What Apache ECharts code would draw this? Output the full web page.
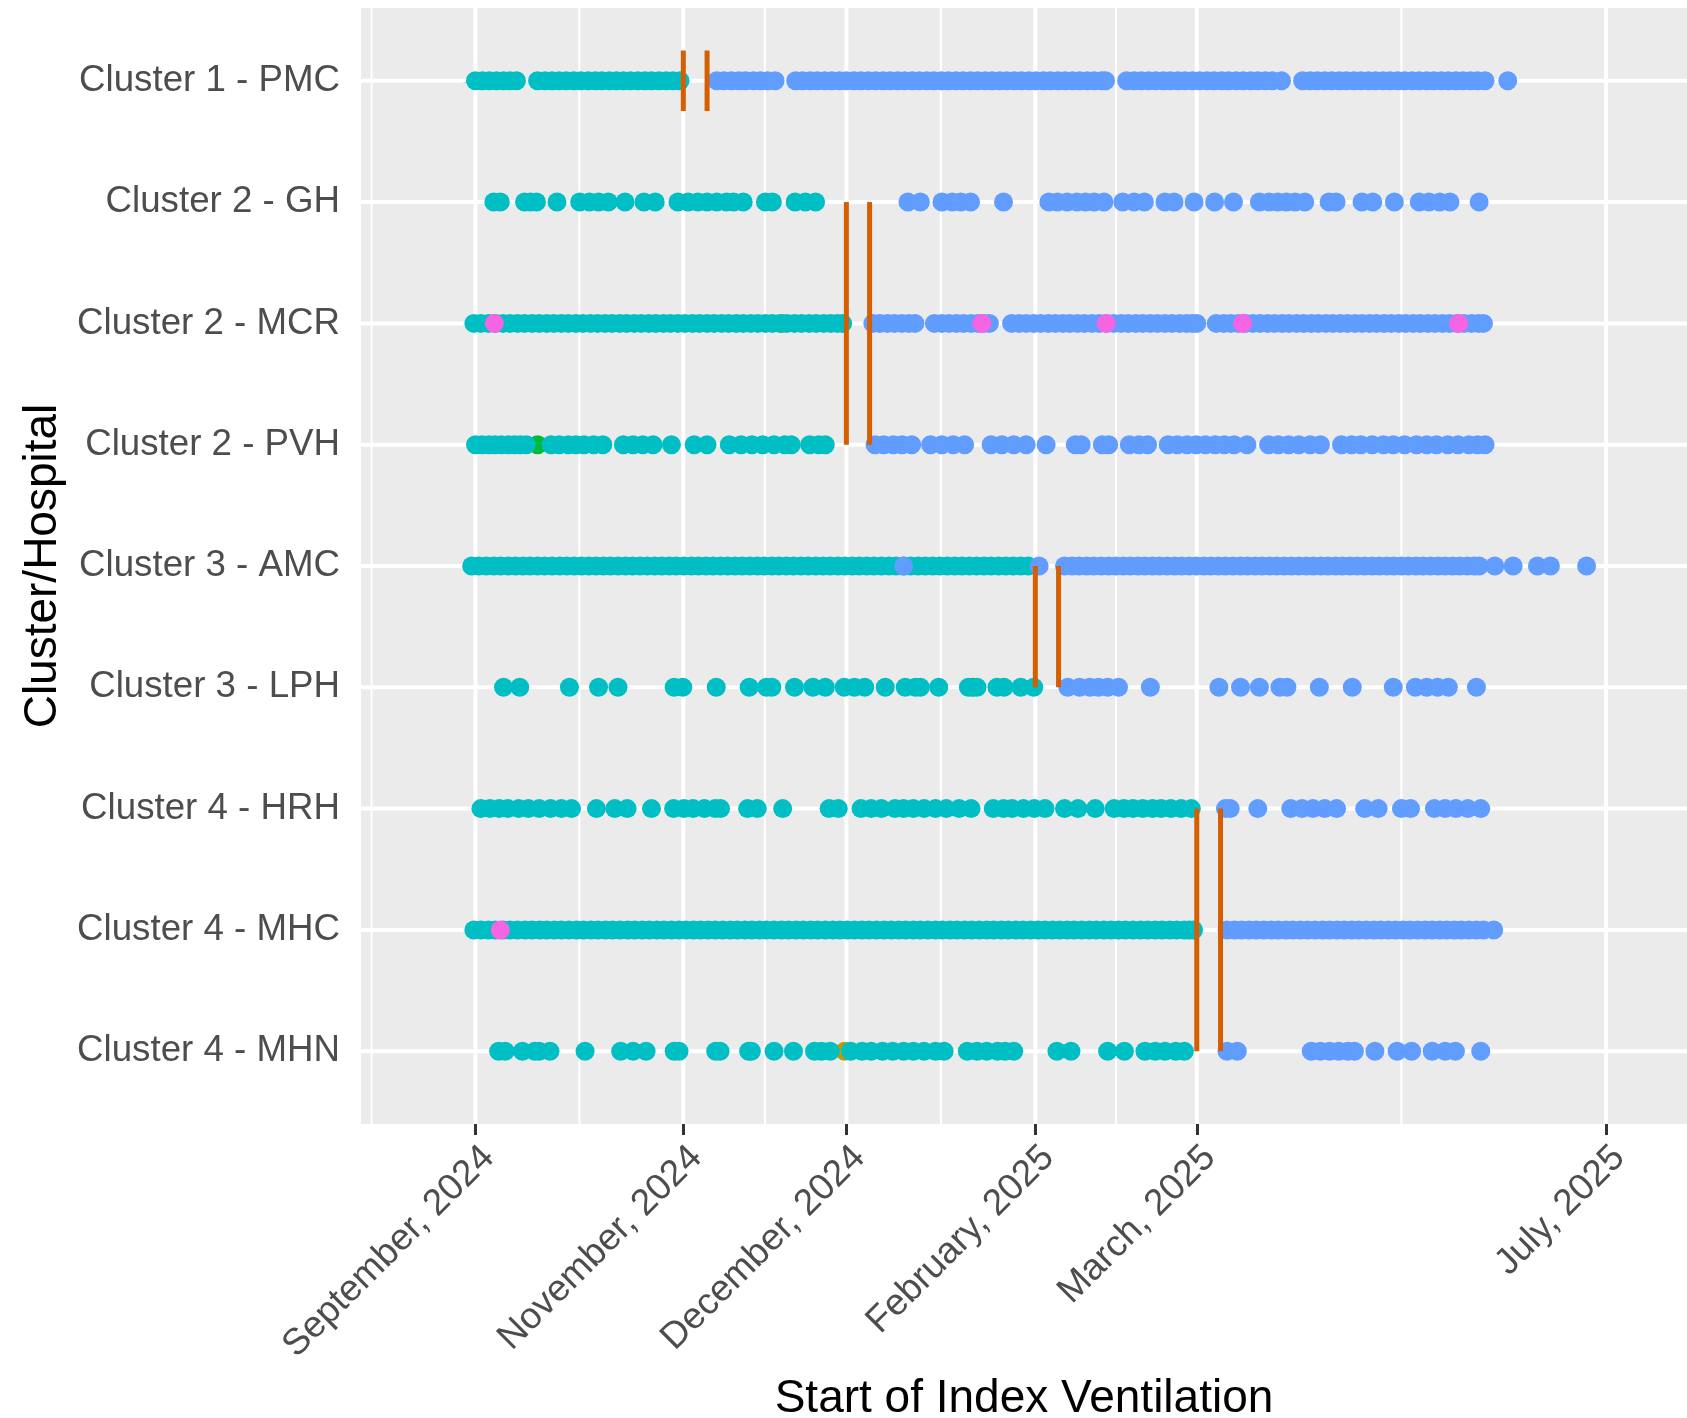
<!DOCTYPE html>
<html><head><meta charset="utf-8">
<script src="https://cdn.jsdelivr.net/npm/echarts@6/dist/echarts.min.js"></script>
<style>html,body{margin:0;padding:0;background:#fff}#chart{width:1687px;height:1418px}</style>
</head><body><div id="chart"></div>
<script>
// ---------- DATA ----------
const categories = ['Cluster 1 - PMC','Cluster 2 - GH','Cluster 2 - MCR','Cluster 2 - PVH','Cluster 3 - AMC','Cluster 3 - LPH','Cluster 4 - HRH','Cluster 4 - MHC','Cluster 4 - MHN'];
const tickValues = [0, 38.5, 68.7, 103.7, 133.6, 209.4];
const tickLabels = ['September, 2024','November, 2024','December, 2024','February, 2025','March, 2025','July, 2025'];
const stepTimes = [[38.5, 42.9], [68.7, 73.0], [103.7, 108.0], [133.6, 138.0]];
const clusterRows = [[1, 1], [2, 4], [5, 6], [7, 9]];

const pmcControl = [0, 1.3, 2.6, 3.9, 5.2, 6.4, 7.6, 11.5, 12.9, 14.2, 15.5, 16.8, 18.2, 19.5, 20.9, 22.2, 23.4, 24.8, 26.1, 27.4, 28.7, 30.1, 31.4, 32.6, 34.0, 35.3, 36.6, 37.9];
const pmcIntervention = [44.7, 46.0, 47.4, 48.8, 50.0, 51.5, 52.8, 54.1, 55.5, 59.3, 60.6, 62.0, 63.3, 64.7, 66.0, 67.4, 68.7, 70.1, 71.4, 72.8, 74.1, 75.5, 76.8, 78.2, 79.5, 80.9, 82.2, 83.6, 84.9, 86.3, 87.6, 89.0, 90.3, 91.7, 93.0, 94.4, 95.7, 97.1, 98.4, 99.8, 101.1, 102.5, 103.8, 105.2, 106.5, 107.9, 109.2, 110.6, 111.9, 113.3, 114.6, 116.0, 116.7, 120.6, 122.0, 123.3, 124.7, 126.0, 127.4, 128.7, 130.1, 131.4, 132.8, 134.1, 135.5, 136.8, 138.2, 139.5, 140.9, 142.2, 143.6, 144.9, 146.3, 147.6, 149.3, 153.2, 154.6, 155.9, 157.3, 158.6, 160.0, 161.3, 162.7, 164.0, 165.4, 166.7, 168.1, 169.4, 170.8, 172.1, 173.5, 174.8, 176.2, 177.5, 178.9, 180.2, 181.6, 182.9, 184.3, 185.6, 187.0, 191.2];

const ghControl = [3.4, 4.6, 9.1, 10.2, 11.3, 15.1, 19.3, 21.1, 22.8, 24.6, 27.7, 31.2, 33.3, 37.5, 39.4, 41.2, 42.9, 44.7, 46.5, 47.8, 49.6, 53.7, 55.0, 59.2, 61.1, 63.0];
const ghIntervention = [80.1, 82.4, 86.4, 88.3, 89.9, 91.7, 97.8, 106.2, 107.8, 109.6, 111.4, 113.0, 114.6, 116.4, 119.9, 122.0, 123.9, 127.7, 129.4, 133.1, 136.9, 140.4, 145.2, 147.0, 148.6, 150.2, 151.8, 153.6, 158.1, 159.4, 164.2, 166.2, 170.2, 174.8, 176.6, 178.6, 180.5, 185.9];

const mcrControl = [-0.3, 1.0, 2.4, 3.7, 5.1, 6.4, 7.8, 9.1, 10.5, 11.8, 13.2, 14.5, 15.9, 17.2, 18.6, 19.9, 21.3, 22.6, 24.0, 25.3, 26.7, 28.0, 29.4, 30.7, 32.1, 33.4, 34.8, 36.1, 37.5, 38.8, 40.2, 41.5, 42.9, 44.2, 45.6, 46.9, 48.3, 49.6, 51.0, 52.3, 53.7, 55.0, 56.4, 57.7, 59.1, 60.4, 61.8, 63.1, 64.5, 65.8, 67.0, 68.0];
const mcrIntervention = [73.6, 74.9, 76.3, 77.6, 79.0, 80.3, 81.4, 85.0, 86.4, 87.7, 89.1, 90.4, 91.8, 93.1, 94.2, 95.2, 99.3, 100.7, 102.0, 103.4, 104.7, 106.1, 107.4, 108.8, 110.1, 111.5, 112.8, 114.2, 115.5, 116.9, 118.2, 119.6, 120.9, 122.3, 123.6, 125.0, 126.3, 127.7, 129.0, 130.4, 131.7, 132.8, 133.6, 137.2, 138.6, 139.9, 141.3, 142.6, 144.0, 145.3, 146.7, 148.0, 149.4, 150.7, 152.1, 153.4, 154.8, 156.1, 157.5, 158.8, 160.2, 161.5, 162.9, 164.2, 165.6, 166.9, 168.3, 169.6, 171.0, 172.3, 173.7, 175.0, 176.4, 177.7, 179.1, 180.4, 181.8, 183.1, 184.5, 185.8, 186.7];
const mcrPink = [3.5, 93.8, 116.8, 142.1, 182.1];
const mcrGold = [56.9];

const pvhControl = [0, 1.2, 2.5, 3.6, 4.8, 6.1, 7.2, 8.3, 9.4, 14.0, 15.5, 17.2, 18.6, 20.1, 21.9, 23.6, 27.4, 29.2, 31.0, 32.9, 36.3, 40.5, 42.9, 47.0, 49.2, 51.2, 53.2, 55.3, 57.3, 58.5, 61.9, 63.6, 64.8];
const pvhIntervention = [74.0, 75.6, 77.4, 79.0, 80.8, 84.3, 86.4, 88.5, 90.6, 95.5, 97.5, 99.7, 102.0, 105.7, 111.1, 112.2, 116.1, 117.3, 121.1, 122.9, 124.5, 128.3, 130.0, 131.8, 133.5, 135.2, 137.0, 138.7, 140.5, 142.9, 146.9, 148.7, 150.6, 152.5, 154.6, 156.5, 160.4, 162.3, 164.0, 166.1, 168.2, 170.0, 172.1, 174.3, 176.2, 178.0, 180.1, 182.0, 184.0, 185.6, 187.0];
const pvhGreen = [11.5];

const amcControl = [-0.7, 0.6, 2.0, 3.4, 4.7, 6.1, 7.4, 8.8, 10.1, 11.5, 12.8, 14.2, 15.6, 16.9, 18.3, 19.6, 21.0, 22.3, 23.7, 25.0, 26.4, 27.8, 29.1, 30.5, 31.8, 33.2, 34.5, 35.9, 37.2, 38.6, 40.0, 41.3, 42.7, 44.0, 45.4, 46.7, 48.1, 49.4, 50.8, 52.2, 53.5, 54.9, 56.2, 57.6, 58.9, 60.3, 61.6, 63.0, 64.4, 65.7, 67.1, 68.4, 69.8, 71.1, 72.5, 73.8, 75.2, 76.6, 77.9, 79.3, 80.6, 82.0, 83.3, 84.7, 86.0, 87.4, 88.8, 90.1, 91.5, 92.8, 94.2, 95.5, 96.9, 98.2, 99.6, 101.0, 102.4];
const amcIntervention = [79.3, 104.4, 109.1, 110.5, 111.8, 113.2, 114.5, 115.9, 117.3, 118.6, 120.0, 121.3, 122.7, 124.0, 125.4, 126.7, 128.1, 129.5, 130.8, 132.2, 133.5, 134.9, 136.2, 137.6, 138.9, 140.3, 141.7, 143.0, 144.4, 145.7, 147.1, 148.4, 149.8, 151.1, 152.5, 153.9, 155.2, 156.6, 157.9, 159.3, 160.6, 162.0, 163.3, 164.7, 166.1, 167.4, 168.8, 170.1, 171.5, 172.8, 174.2, 175.5, 176.9, 178.3, 179.6, 181.0, 182.3, 183.7, 185.0, 185.9, 188.8, 192.2, 196.7, 199.1, 205.8];

const lphControl = [5.2, 8.2, 17.4, 22.8, 26.4, 36.8, 38.4, 44.6, 50.7, 53.9, 54.9, 59.1, 62.5, 64.8, 68.3, 70.2, 72.1, 75.9, 79.6, 81.5, 82.4, 85.8, 91.3, 92.9, 96.6, 97.9, 101.0, 103.4];
const lphIntervention = [109.7, 111.9, 113.8, 115.4, 117.1, 119.1, 125.0, 137.7, 141.7, 145.2, 149.0, 150.3, 156.3, 162.4, 170.0, 174.1, 176.2, 178.2, 180.2, 185.4];
const lphGreen = [92.1];

const hrhControl = [1.0, 2.7, 4.4, 6.0, 8.0, 9.8, 11.8, 13.9, 15.9, 17.8, 22.4, 25.8, 28.1, 32.6, 36.7, 38.6, 40.3, 42.4, 44.4, 45.4, 50.4, 52.2, 56.9, 65.5, 67.2, 71.4, 73.3, 75.2, 77.7, 79.3, 81.1, 83.1, 85.2, 87.2, 89.6, 91.8, 95.9, 97.8, 99.4, 101.5, 103.5, 105.5, 109.1, 111.6, 114.8, 118.3, 120.1, 121.8, 123.6, 125.4, 127.0, 128.8, 130.7, 132.6];
const hrhIntervention = [138.9, 139.8, 144.9, 151.0, 153.1, 155.1, 157.3, 159.5, 164.7, 167.2, 171.5, 173.2, 177.6, 179.6, 181.6, 183.8, 186.2];

const mhcControl = [-0.3, 1.0, 2.4, 3.7, 5.1, 6.4, 7.8, 9.2, 10.5, 11.9, 13.2, 14.6, 15.9, 17.3, 18.7, 20.0, 21.4, 22.7, 24.1, 25.4, 26.8, 28.2, 29.5, 30.9, 32.2, 33.6, 34.9, 36.3, 37.7, 39.0, 40.4, 41.7, 43.1, 44.4, 45.8, 47.2, 48.5, 49.9, 51.2, 52.6, 53.9, 55.3, 56.7, 58.0, 59.4, 60.7, 62.1, 63.4, 64.8, 66.2, 67.5, 68.9, 70.2, 71.6, 72.9, 74.3, 75.7, 77.0, 78.4, 79.7, 81.1, 82.4, 83.8, 85.2, 86.5, 87.9, 89.2, 90.6, 91.9, 93.3, 94.7, 96.0, 97.4, 98.7, 100.1, 101.4, 102.8, 104.2, 105.5, 106.9, 108.2, 109.6, 110.9, 112.3, 113.7, 115.0, 116.4, 117.7, 119.1, 120.4, 121.8, 123.2, 124.5, 125.9, 127.2, 128.6, 129.9, 131.3, 132.2, 133.0];
const mhcIntervention = [139.2, 140.6, 141.9, 143.3, 144.6, 146.0, 147.4, 148.7, 150.1, 151.4, 152.8, 154.1, 155.5, 156.9, 158.2, 159.6, 160.9, 162.3, 163.6, 165.0, 166.4, 167.7, 169.1, 170.4, 171.8, 173.1, 174.5, 175.9, 177.2, 178.6, 179.9, 181.3, 182.6, 184.0, 185.4, 186.7, 188.6];
const mhcPink = [4.6];

const mhnControl = [4.3, 5.5, 8.7, 11.0, 11.8, 13.8, 20.3, 26.9, 29.2, 31.6, 36.8, 37.7, 44.5, 45.3, 50.6, 51.1, 55.3, 58.9, 62.8, 64.1, 65.7, 69.5, 71.6, 73.3, 75.4, 77.3, 79.3, 81.1, 83.1, 85.2, 86.8, 91.1, 92.9, 94.7, 96.7, 98.1, 99.7, 107.7, 110.3, 117.1, 120.2, 124.0, 125.9, 127.7, 129.7, 131.3];
const mhnIntervention = [139.2, 141.1, 154.8, 156.5, 158.2, 159.9, 161.6, 162.8, 166.6, 170.7, 173.4, 177.2, 179.6, 181.5, 186.2];
const mhnGold = [68.4];

const rowControl = [pmcControl, ghControl, mcrControl, pvhControl, amcControl, lphControl, hrhControl, mhcControl, mhnControl];
const rowIntervention = [pmcIntervention, ghIntervention, mcrIntervention, pvhIntervention, amcIntervention, lphIntervention, hrhIntervention, mhcIntervention, mhnIntervention];
const rowPink = [[], [], mcrPink, [], [], [], [], mhcPink, []];
const rowGreen = [[], [], [], pvhGreen, [], lphGreen, [], [], []];
const rowGold = [[], [], mcrGold, [], [], [], [], [], mhnGold];

// ---------- BUILD ----------
const FONT = "'Liberation Sans', Arial, Helvetica, sans-serif";
const X_MIN = -21.2, X_MAX = 224.4, Y_MIN = 0.4, Y_MAX = 9.6;
function pts(rowsArr) {
  const out = [];
  rowsArr.forEach((arr, i) => arr.forEach(x => out.push([x, i + 1])));
  return out;
}
const rowIdx = categories.map((c, i) => i + 1);
const minorValues = [];
minorValues.push(tickValues[0] - (tickValues[1] - tickValues[0]) / 2);
for (let i = 0; i < tickValues.length - 1; i++) minorValues.push((tickValues[i] + tickValues[i + 1]) / 2);

const series = [];
function gridSeries(data, w) {
  series.push({type: 'line', data: data, showSymbol: false, symbol: 'none', silent: true, z: 1,
    lineStyle: {color: '#FFFFFF', width: w, cap: 'butt'}});
}
minorValues.forEach(v => gridSeries([[v, Y_MIN], [v, Y_MAX]], 2));
tickValues.forEach(v => gridSeries([[v, Y_MIN], [v, Y_MAX]], 4));
rowIdx.forEach(v => gridSeries([[X_MIN, v], [X_MAX, v]], 4));

const sym = 19;
series.push(
  {type: 'scatter', data: pts(rowGold), symbolSize: sym, itemStyle: {color: '#B79F00', opacity: 1}, z: 2},
  {type: 'scatter', data: pts(rowGreen), symbolSize: sym, itemStyle: {color: '#00BA38', opacity: 1}, z: 2},
  {type: 'scatter', data: pts(rowControl), symbolSize: sym, itemStyle: {color: '#00BFC4', opacity: 1}, z: 3},
  {type: 'scatter', data: pts(rowIntervention), symbolSize: sym, itemStyle: {color: '#619CFF', opacity: 1}, z: 4},
  {type: 'scatter', data: pts(rowPink), symbolSize: sym, itemStyle: {color: '#F564E3', opacity: 1}, z: 5}
);
stepTimes.forEach((pair, k) => {
  const r = clusterRows[k];
  const y0 = r[0] === r[1] ? r[0] - 0.25 : r[0];
  const y1 = r[0] === r[1] ? r[1] + 0.25 : r[1];
  pair.forEach(x => {
    series.push({type: 'line', data: [[x, y0], [x, y1]], showSymbol: false, symbol: 'none', z: 6,
      lineStyle: {color: '#D55E00', width: 5, cap: 'butt'}, silent: true});
  });
});

const chart = echarts.init(document.getElementById('chart'), null, {renderer: 'canvas'});
chart.setOption({
  animation: false,
  backgroundColor: '#FFFFFF',
  grid: {left: 361, right: 0, top: 8, bottom: 294, show: true, backgroundColor: '#EBEBEB', borderWidth: 0,
    containLabel: false, outerBoundsMode: 'none'},
  xAxis: {
    type: 'value', min: X_MIN, max: X_MAX,
    axisLine: {show: false},
    splitLine: {show: false},
    axisTick: {show: true, customValues: tickValues, length: 11, lineStyle: {color: '#333333', width: 3}},
    axisLabel: {show: true, customValues: tickValues, rotate: 45, margin: 15,
      fontSize: 37, color: '#4D4D4D', fontFamily: FONT, verticalAlign: 'top',
      formatter: v => { const i = tickValues.findIndex(t => Math.abs(t - v) < 1e-6); return i >= 0 ? tickLabels[i] : ''; }},
    name: 'Start of Index Ventilation', nameLocation: 'middle', nameGap: 252,
    nameTextStyle: {fontSize: 46, color: '#000000', fontFamily: FONT}
  },
  yAxis: {
    type: 'value', min: Y_MIN, max: Y_MAX, inverse: true,
    axisLine: {show: false},
    splitLine: {show: false},
    axisTick: {show: true, customValues: rowIdx, length: 12, lineStyle: {color: '#333333', width: 3}},
    axisLabel: {show: true, customValues: rowIdx, margin: 21, fontSize: 36.7, color: '#4D4D4D', fontFamily: FONT,
      formatter: v => categories[Math.round(v) - 1] || ''},
    name: 'Cluster/Hospital', nameLocation: 'middle', nameGap: 295, nameRotate: 90,
    nameTextStyle: {fontSize: 46, color: '#000000', fontFamily: FONT}
  },
  series: series
});
</script>
</body></html>
